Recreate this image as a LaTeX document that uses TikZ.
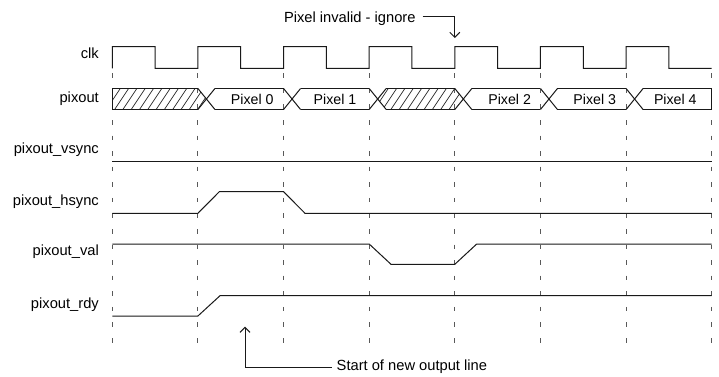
\documentclass[tikz,border=0pt]{standalone}
\usepackage{fontspec}
\setmainfont{Liberation Sans}
\usetikzlibrary{arrows.meta}
\begin{document}
\begin{tikzpicture}[x=1pt,y=-1pt,
  wave/.style={line width=1pt,black!90,line join=miter},
  grid/.style={line width=1pt,black!65,dash pattern=on 4.5pt off 11.07pt},
  lbl/.style={anchor=base east,inner sep=0pt,font=\fontsize{14.7}{17}\selectfont},
  pix/.style={anchor=base,inner sep=0pt,font=\fontsize{14.2}{17}\selectfont},
  note/.style={anchor=base west,inner ysep=0pt,inner xsep=0pt,font=\fontsize{14.7}{17}\selectfont},
  arr/.style={line width=1pt,black!90,-{Straight Barb[length=5pt,width=10pt]}},
  hatch/.style={line width=0.7pt,black!85}]
\useasboundingbox (0,0) rectangle (719,376);
\fill[white] (0,0) rectangle (719,376);

% labels
\node[lbl] (lclk) at (99,58.5) {clk};
\node[lbl] (lpix) at (99,102.5) {pixout};
\node[lbl] (lvs) at (99,153.5) {pixout\_vsync};
\node[lbl] (lhs) at (99,205.5) {pixout\_hsync};
\node[lbl] (lval) at (99,255.5) {pixout\_val};
\node[lbl] (lrdy) at (99,308.5) {pixout\_rdy};

% dashed grid lines
\foreach \k in {0,...,7}
  \draw[grid] ({112.3+85.63*\k},73.3) -- ({112.3+85.63*\k},343);

% clock
\draw[wave] (112.3,68.3) foreach \k in {0,...,6} {
  -- ({112.3+85.63*\k},46.7) -- ({155.1+85.63*\k},46.7)
  -- ({155.1+85.63*\k},68.3) -- ({197.9+85.63*\k},68.3) };

% hatching
\begin{scope}
  \clip (112.3,88.5) -- (197.9,88.5) -- (206.4,99) -- (197.9,109.5) -- (112.3,109.5) -- cycle;
  \foreach \x in {98,106.3,...,215} \draw[hatch] (\x,109.5) -- (\x+14,88.5);
\end{scope}
\begin{scope}
  \clip (377.7,99) -- (386.2,88.5) -- (454.8,88.5) -- (463.3,99) -- (454.8,109.5) -- (386.2,109.5) -- cycle;
  \foreach \x in {366,374.3,...,470} \draw[hatch] (\x,109.5) -- (\x+14,88.5);
\end{scope}

% bus outline
\draw[wave] (197.9,88.5) -- (112.3,88.5) -- (112.3,109.5) -- (197.9,109.5);
\foreach \k in {1,...,6} {
  \draw[wave] ({112.3+85.63*\k},88.5) -- ({129.3+85.63*\k},109.5);
  \draw[wave] ({112.3+85.63*\k},109.5) -- ({129.3+85.63*\k},88.5);
}
\foreach \k in {1,...,5} {
  \draw[wave] ({129.3+85.63*\k},88.5) -- ({197.9+85.63*\k},88.5);
  \draw[wave] ({129.3+85.63*\k},109.5) -- ({197.9+85.63*\k},109.5);
}
\draw[wave] (643.1,88.5) -- (711.7,88.5) -- (711.7,109.5) -- (643.1,109.5);

\node[pix] (p0) at (252.3,104) {Pixel 0};
\node[pix] (p1) at (335,104) {Pixel 1};
\node[pix] (p2) at (509.6,104) {Pixel 2};
\node[pix] (p3) at (594.7,104) {Pixel 3};
\node[pix] (p4) at (675.3,104) {Pixel 4};

% vsync
\draw[wave] (112.3,161) -- (711.7,161);
% hsync
\draw[wave] (112.3,213.3) -- (197.9,213.3) -- (219.3,191.7) -- (283.6,191.7) -- (305,213.3) -- (711.7,213.3);
% val
\draw[wave] (112.3,244) -- (369.2,244) -- (391,264.3) -- (454.8,264.3) -- (476.7,244) -- (711.7,244);
% rdy
\draw[wave] (112.3,316) -- (197.9,316) -- (220,295.7) -- (711.7,295.7);

% annotations
\node[note,outer xsep=7pt] (inv) at (277,22) {Pixel invalid - ignore};
\coordinate (i2) at (454.8,16.7);
\coordinate (i3) at (454.8,38);
\draw[arr] (inv.east |- i2) -- (i2) -- (i3);

\node[note,outer xsep=5pt] (st) at (331.7,370.7) {Start of new output line};
\coordinate (s2) at (245,367.3);
\coordinate (s3) at (245,326.7);
\draw[arr] (st.west |- s2) -- (s2) -- (s3);
\end{tikzpicture}
\end{document}
